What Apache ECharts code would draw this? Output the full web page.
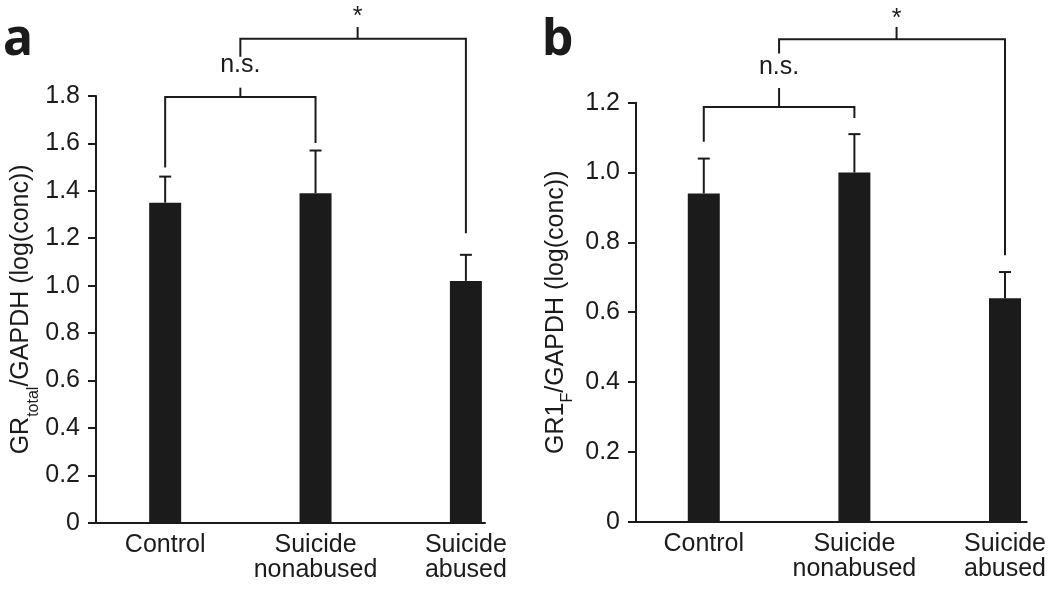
<!DOCTYPE html>
<html>
<head>
<meta charset="utf-8">
<script src="https://cdn.jsdelivr.net/npm/echarts@6/dist/echarts.min.js"></script>
<style>
html,body{margin:0;padding:0;background:#fff;}
#c{width:1050px;height:591px;}
</style>
</head>
<body>
<div id="c"></div>
<script>
// ---- data ----
const categories = ['Control', 'Suicide\nnonabused', 'Suicide\nabused'];
const catPos = [0, 1, 2];

// panel a: GRtotal / GAPDH
const grTotalMean = [1.35, 1.39, 1.02];
const grTotalSem  = [0.11, 0.18, 0.11];
const yMinA = 0, yMaxA = 1.8, yStepA = 0.2;

// panel b: GR1F / GAPDH
const gr1FMean = [0.94, 1.00, 0.64];
const gr1FSem  = [0.10, 0.11, 0.075];
const yMinB = 0, yMaxB = 1.2, yStepB = 0.2;

// significance brackets (data units)
const bracketLabels = ['n.s.', '*'];
const bracketSpan = [[0, 1], [0.5, 2]];
const bracketMid = [0.5, 1.28];
const bracketLevelA = [1.796, 2.042];
const bracketLegEndA = [[1.498, 1.602], [1.966, 1.221]];
const bracketTickTopA = [1.835, 2.091];
const bracketLabelYA = [1.931, 2.131];
const bracketLevelB = [1.188, 1.382];
const bracketLegEndB = [[1.088, 1.156], [1.341, 0.763]];
const bracketTickTopB = [1.242, 1.417];
const bracketLabelYB = [1.301, 1.440];

// ---- styles ----
const INK = '#1b1b1b';
const FONT = '"Liberation Sans", Arial, Helvetica, sans-serif';

function errorItem(mean, sem) {
  return function (params, api) {
    const i = params.dataIndex;
    const p0 = api.coord([catPos[i], mean[i]]);
    const p1 = api.coord([catPos[i], mean[i] + sem[i]]);
    return {
      type: 'group',
      children: [
        {type: 'line', shape: {x1: p0[0], y1: p0[1], x2: p1[0], y2: p1[1]}, style: {stroke: INK, lineWidth: 2}},
        {type: 'line', shape: {x1: p1[0] - 6, y1: p1[1], x2: p1[0] + 6, y2: p1[1]}, style: {stroke: INK, lineWidth: 2}}
      ]
    };
  };
}

function bracketItem(level, legEnd, tickTop, labelY) {
  return function (params, api) {
    const i = params.dataIndex;
    const a0 = api.coord([bracketSpan[i][0], legEnd[i][0]]);
    const a1 = api.coord([bracketSpan[i][0], level[i]]);
    const b1 = api.coord([bracketSpan[i][1], level[i]]);
    const b0 = api.coord([bracketSpan[i][1], legEnd[i][1]]);
    const m0 = api.coord([bracketMid[i], level[i]]);
    const m1 = api.coord([bracketMid[i], tickTop[i]]);
    const t = api.coord([bracketMid[i], labelY[i]]);
    return {
      type: 'group',
      children: [
        {type: 'polyline', shape: {points: [a0, a1, b1, b0]}, style: {stroke: INK, lineWidth: 2, fill: null}},
        {type: 'line', shape: {x1: m0[0], y1: m0[1], x2: m1[0], y2: m1[1]}, style: {stroke: INK, lineWidth: 2}},
        {type: 'text', x: t[0], y: t[1], style: {text: bracketLabels[i], fill: INK, font: '25px ' + FONT, align: 'center', verticalAlign: 'middle'}}
      ]
    };
  };
}

function xAxisCfg(gridIndex, min, max) {
  return {
    type: 'value', gridIndex: gridIndex, min: min, max: max,
    axisLine: {show: true, onZero: false, lineStyle: {color: INK, width: 2}},
    axisTick: {show: false},
    splitLine: {show: false},
    axisLabel: {
      customValues: catPos,
      formatter: function (v) { return categories[Math.round(v)]; },
      color: INK, fontSize: 25, lineHeight: 25, fontFamily: FONT, margin: 10
    }
  };
}

function yAxisCfg(gridIndex, min, max, step, name, gap) {
  return {
    type: 'value', gridIndex: gridIndex, min: min, max: max, interval: step,
    axisLine: {show: true, onZero: false, lineStyle: {color: INK, width: 2}},
    axisTick: {show: true, length: 8, lineStyle: {color: INK, width: 2}},
    splitLine: {show: false},
    axisLabel: {
      color: INK, fontSize: 25, fontFamily: FONT, margin: 16,
      formatter: function (v) { return v === 0 ? '0' : v.toFixed(1); }
    },
    name: name, nameLocation: 'middle', nameRotate: 90, nameGap: gap,
    nameTextStyle: {
      color: INK, fontSize: 25, fontFamily: FONT, lineHeight: 40,
      rich: {
        m: {fontSize: 25, fontFamily: FONT, color: INK, lineHeight: 40},
        s: {fontSize: 16, fontFamily: FONT, color: INK, lineHeight: 40, verticalAlign: 'bottom'}
      }
    }
  };
}

const chart = echarts.init(document.getElementById('c'), null, {renderer: 'canvas'});
chart.setOption({
  animation: false,
  backgroundColor: '#ffffff',
  title: [
    {text: 'a', left: 3, top: 16, padding: 0, textStyle: {fontSize: 50, fontWeight: 'bold', color: INK, fontFamily: '"Noto Sans", "Open Sans", sans-serif'}},
    {text: 'b', left: 542, top: 16, padding: 0, textStyle: {fontSize: 50, fontWeight: 'bold', color: INK, fontFamily: '"Noto Sans", "Open Sans", sans-serif'}}
  ],
  grid: [
    {left: 96, top: 96, width: 389, height: 426.7, outerBoundsMode: 'none', containLabel: false},
    {left: 636, top: 102.7, width: 390.7, height: 419, outerBoundsMode: 'none', containLabel: false}
  ],
  xAxis: [xAxisCfg(0, -0.46, 2.127), xAxisCfg(1, -0.45, 2.144)],
  yAxis: [
    yAxisCfg(0, yMinA, yMaxA, yStepA, '{m|GR}{s|total}{m|/GAPDH (log(conc))}', 54),
    yAxisCfg(1, yMinB, yMaxB, yStepB, '{m|GR1}{s|F}{m|/GAPDH (log(conc))}', 60)
  ],
  series: [
    {type: 'bar', xAxisIndex: 0, yAxisIndex: 0, barWidth: 32, itemStyle: {color: INK},
     data: catPos.map((x, i) => [x, grTotalMean[i]])},
    {type: 'custom', xAxisIndex: 0, yAxisIndex: 0, clip: false, z: 3,
     data: catPos.map((x, i) => [x, grTotalMean[i] + grTotalSem[i]]),
     renderItem: errorItem(grTotalMean, grTotalSem)},
    {type: 'custom', xAxisIndex: 0, yAxisIndex: 0, clip: false, z: 3,
     data: bracketMid.map((x, i) => [x, bracketLevelA[i]]),
     renderItem: bracketItem(bracketLevelA, bracketLegEndA, bracketTickTopA, bracketLabelYA)},
    {type: 'bar', xAxisIndex: 1, yAxisIndex: 1, barWidth: 32, itemStyle: {color: INK},
     data: catPos.map((x, i) => [x, gr1FMean[i]])},
    {type: 'custom', xAxisIndex: 1, yAxisIndex: 1, clip: false, z: 3,
     data: catPos.map((x, i) => [x, gr1FMean[i] + gr1FSem[i]]),
     renderItem: errorItem(gr1FMean, gr1FSem)},
    {type: 'custom', xAxisIndex: 1, yAxisIndex: 1, clip: false, z: 3,
     data: bracketMid.map((x, i) => [x, bracketLevelB[i]]),
     renderItem: bracketItem(bracketLevelB, bracketLegEndB, bracketTickTopB, bracketLabelYB)}
  ]
});
</script>
</body>
</html>
